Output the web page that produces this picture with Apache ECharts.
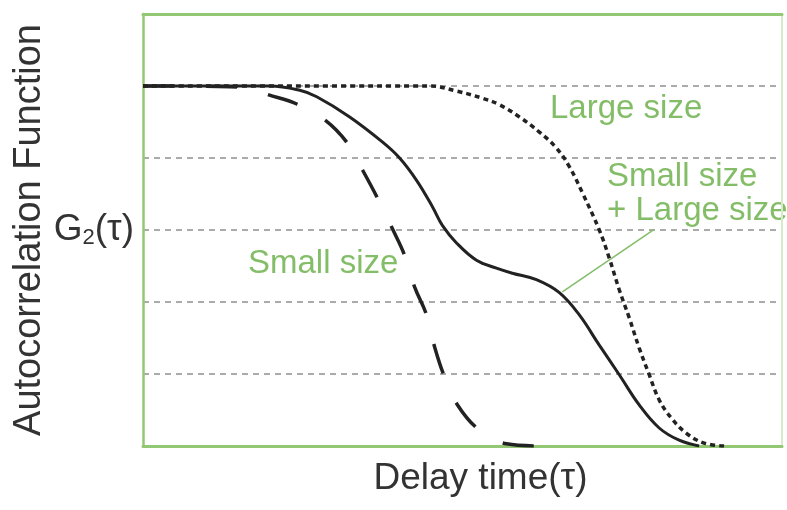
<!DOCTYPE html>
<html>
<head>
<meta charset="utf-8">
<script src="https://cdn.jsdelivr.net/npm/echarts@6/dist/echarts.min.js"></script>
<style>
html,body{margin:0;padding:0;background:#fff;}
#chart{width:787px;height:510px;}
</style>
</head>
<body>
<div id="chart"></div>
<script>
// Delay time (relative units) and G2 values (relative units, gridline = 1)
var smallX = [0, 87, 107, 125, 154, 182, 204, 220, 235, 249, 262, 272, 284, 292, 302, 315, 337, 364, 394];
var smallY = [5.0, 4.99, 4.96, 4.88, 4.75, 4.53, 4.22, 3.83, 3.44, 3.04, 2.65, 2.21, 1.82, 1.38, 0.96, 0.57, 0.22, 0.03, 0.0];

var mixX = [0, 127, 157, 174, 207, 240, 257, 274, 290, 300, 314, 334, 354, 370, 394, 417, 437, 457, 477, 497, 517, 537, 557];
var mixY = [5.0, 5.0, 4.94, 4.85, 4.57, 4.22, 4.0, 3.69, 3.32, 3.06, 2.82, 2.58, 2.47, 2.40, 2.31, 2.13, 1.82, 1.40, 0.99, 0.57, 0.25, 0.08, 0.0];

var largeX = [0, 287, 314, 340, 357, 377, 397, 414, 427, 440, 457, 467, 477, 487, 497, 507, 517, 529, 544, 562, 582];
var largeY = [5.0, 5.0, 4.93, 4.83, 4.74, 4.57, 4.36, 4.14, 3.88, 3.52, 3.0, 2.61, 2.17, 1.78, 1.36, 0.99, 0.64, 0.39, 0.18, 0.04, 0.0];

var leaderX = [420, 512];
var leaderY = [2.14, 3.01];

var yTickLabel = 3; // position of G2(τ)
var xMin = 0, xMax = 640, yMin = 0, yMax = 6, yStep = 1;

var labels = {
  xName: 'Delay time(τ)',
  yName: 'Autocorrelation Function',
  large: 'Large size',
  small: 'Small size',
  mix1: 'Small size',
  mix2: '+ Large size'
};

function zip(xs, ys) { return xs.map(function (x, i) { return [x, ys[i]]; }); }

var FONT = '"Liberation Sans", Arial, Helvetica, sans-serif';
var GREEN_TXT = '#84bd68';
var GREEN_LINE = '#92c873';

var chart = echarts.init(document.getElementById('chart'), null, { renderer: 'canvas' });

var option = {
  animation: false,
  backgroundColor: '#ffffff',
  grid: { left: 143, right: 5, top: 14, bottom: 64, containLabel: false },
  xAxis: [{
    type: 'value', min: xMin, max: xMax, position: 'bottom',
    name: labels.xName, nameLocation: 'middle', nameGap: 14,
    nameTextStyle: { fontFamily: FONT, fontSize: 37, color: '#333', verticalAlign: 'top', padding: [0, 0, 0, 36] },
    axisLine: { show: true, onZero: false, lineStyle: { color: GREEN_LINE, width: 3 } },
    axisTick: { show: false }, axisLabel: { show: false }, splitLine: { show: false }
  }, {
    type: 'value', min: xMin, max: xMax, position: 'top',
    axisLine: { show: true, onZero: false, lineStyle: { color: GREEN_LINE, width: 3 } },
    axisTick: { show: false }, axisLabel: { show: false }, splitLine: { show: false }
  }],
  yAxis: [{
    type: 'value', min: yMin, max: yMax, interval: yStep, position: 'left',
    name: labels.yName, nameLocation: 'middle', nameRotate: 90, nameGap: 94,
    nameMoveOverlap: false,
    nameTextStyle: { fontFamily: FONT, fontSize: 38, color: '#333', verticalAlign: 'bottom' },
    axisLine: { show: true, onZero: false, lineStyle: { color: GREEN_LINE, width: 2.5 } },
    axisTick: { show: false },
    axisLabel: {
      show: true, margin: 9,
      formatter: function (v) { return v === yTickLabel ? '{a|G}{b|2}{a|(τ)}' : ''; },
      rich: {
        a: { fontFamily: FONT, fontSize: 37, color: '#333' },
        b: { fontFamily: FONT, fontSize: 22, color: '#333', verticalAlign: 'bottom', padding: [0, 0, 0, 0] }
      }
    },
    splitLine: {
      show: true, showMinLine: false, showMaxLine: false,
      lineStyle: { color: '#ababab', width: 2, type: [6, 5] }
    }
  }, {
    type: 'value', min: yMin, max: yMax, position: 'right',
    axisLine: { show: true, onZero: false, lineStyle: { color: '#d6ebc9', width: 2 } },
    axisTick: { show: false }, axisLabel: { show: false }, splitLine: { show: false }
  }],
  series: [{
    name: 'Large size', type: 'line', data: zip(largeX, largeY),
    showSymbol: false, smooth: 0.4, z: 3,
    lineStyle: { color: '#222', width: 3.5, type: [5, 4], cap: 'butt' }
  }, {
    name: 'Small size', type: 'line', data: zip(smallX, smallY),
    showSymbol: false, smooth: 0.4, z: 3,
    lineStyle: { color: '#222', width: 3.5, type: [31, 32], cap: 'butt' }
  }, {
    name: 'Small size + Large size', type: 'line', data: zip(mixX, mixY),
    showSymbol: false, smooth: 0.4, z: 4,
    lineStyle: { color: '#222', width: 3 },
    markLine: {
      silent: true, symbol: 'none', label: { show: false },
      lineStyle: { color: GREEN_TXT, width: 1.5, type: 'solid' },
      data: [[{ coord: [leaderX[0], leaderY[0]] }, { coord: [leaderX[1], leaderY[1]] }]]
    }
  }],
  graphic: [
    { type: 'text', x: 550, y: 108.5, style: { text: labels.large, font: '33px ' + FONT, fill: GREEN_TXT, align: 'left', verticalAlign: 'middle' } },
    { type: 'text', x: 607, y: 176.5, style: { text: labels.mix1, font: '33px ' + FONT, fill: GREEN_TXT, align: 'left', verticalAlign: 'middle' } },
    { type: 'text', x: 607, y: 210.5, style: { text: labels.mix2, font: '33px ' + FONT, fill: GREEN_TXT, align: 'left', verticalAlign: 'middle' } },
    { type: 'text', x: 248, y: 263.5, style: { text: labels.small, font: '33px ' + FONT, fill: GREEN_TXT, align: 'left', verticalAlign: 'middle' } }
  ]
};

chart.setOption(option);
</script>
</body>
</html>
